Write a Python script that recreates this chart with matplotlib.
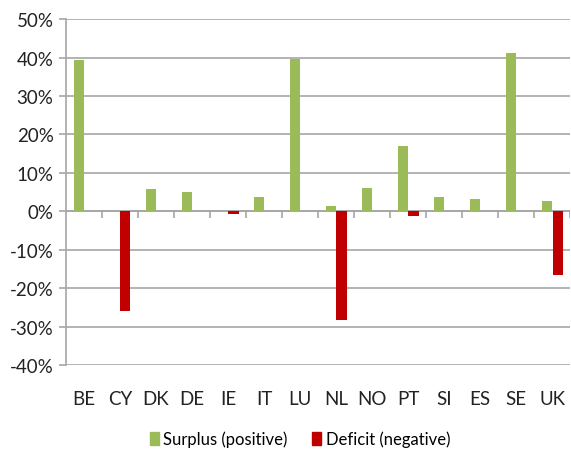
import numpy as np
import matplotlib.pyplot as plt
from matplotlib.patches import Patch

plt.rcParams['font.family'] = ['Lato', 'DejaVu Sans']

countries = ["BE", "CY", "DK", "DE", "IE", "IT", "LU", "NL", "NO", "PT", "SI", "ES", "SE", "UK"]
surplus = [39.3, 0, 5.7, 5.0, 0, 3.6, 39.6, 1.5, 6.1, 16.9, 3.6, 3.3, 41.1, 2.7]
deficit = [0, -25.8, 0, 0, -0.7, 0, 0, -28.3, 0, -1.3, 0, 0, 0, -16.5]
yticks = [-40, -30, -20, -10, 0, 10, 20, 30, 40, 50]

green = "#9BBB59"
red = "#C00000"
grid_c = "#A6A6A6"

fig = plt.figure(figsize=(5.71, 4.56), dpi=100)
ax = fig.add_axes([0.1156, 0.197, 0.883, 0.759])

x = np.arange(len(countries))
w = 0.28
ax.bar(x - 0.15, surplus, w, color=green, linewidth=0, zorder=3)
ax.bar(x + 0.15, deficit, w, color=red, linewidth=0, zorder=3)

ax.set_xlim(-0.5, len(countries) - 0.5)
ax.set_ylim(-40, 50)
ax.set_yticks(yticks)
ax.set_yticklabels([f"{v}%" for v in yticks], fontsize=13.5, color="#222222")
ax.yaxis.grid(True, color=grid_c, linewidth=1.2, zorder=0)
ax.set_axisbelow(True)

ax.set_xticks(x)
ax.set_xticklabels(countries, fontsize=13.5, color="#222222")
ax.tick_params(axis="x", length=0, pad=18)
ax.tick_params(axis="y", length=5, color=grid_c, width=1.2, pad=4)

for s in ["top", "right", "bottom"]:
    ax.spines[s].set_visible(False)
ax.spines["left"].set_color(grid_c)
ax.spines["left"].set_linewidth(1.2)

# zero line with category separators
ax.axhline(0, color=grid_c, linewidth=1.2, zorder=2)
bounds = np.arange(len(countries) + 1) - 0.5
ax.vlines(bounds[1:], -1.8, 0, color=grid_c, linewidth=1.2, zorder=2)

handles = [Patch(color=green), Patch(color=red)]
fig.legend(handles, ["Surplus (positive)", "Deficit (negative)"], loc="center",
           bbox_to_anchor=(0.525, 0.035), ncol=2, frameon=False, fontsize=12,
           handlelength=0.55, handleheight=0.8, handletextpad=0.25, columnspacing=1.5)

fig.savefig("out.png", dpi=100)
